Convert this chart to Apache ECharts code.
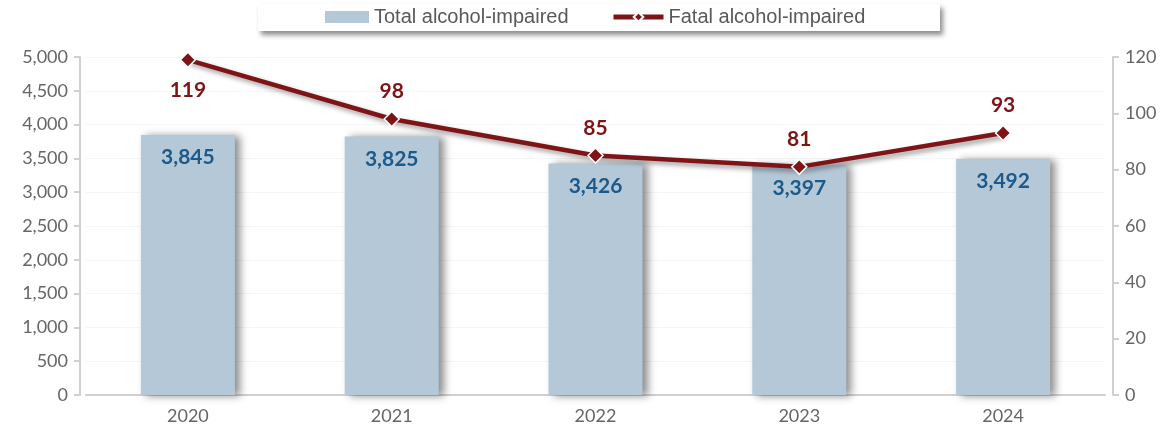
<!DOCTYPE html>
<html>
<head>
<meta charset="utf-8">
<script src="https://cdn.jsdelivr.net/npm/echarts@6/dist/echarts.min.js"></script>
<style>
  html, body { margin: 0; padding: 0; background: #fff; }
  #chart { width: 1167px; height: 433px; }
</style>
</head>
<body>
<div id="chart"></div>
<script>
var years = ['2020', '2021', '2022', '2023', '2024']
var totalImpaired = [3845, 3825, 3426, 3397, 3492]
var fatalImpaired = [119, 98, 85, 81, 93]

var axisColor = '#d0d0d0'
var lineColor = '#7e1416'
var tickFont = { color: '#666666', fontSize: 18, fontFamily: 'Lato' }
var legendText = { color: '#595959', fontSize: 20, fontFamily: 'Liberation Sans' }

var chart = echarts.init(document.getElementById('chart'))

// 119 sits at the top edge, so its label goes under the point
var fatalData = fatalImpaired.map(function (v, i) {
  return i === 0 ? { value: v, label: { position: 'bottom', distance: 12 } } : v
})

var option = {
  animation: false,
  grid: {
    left: 86,
    right: 62,
    top: 57,
    bottom: 38
  },
  graphic: [
    {
      type: 'rect',
      z: 1,
      shape: { x: 258, y: 4, width: 682, height: 27 },
      style: {
        fill: '#fff',
        shadowBlur: 5,
        shadowOffsetX: 3,
        shadowOffsetY: 4,
        shadowColor: 'rgba(0,0,0,0.45)'
      }
    }
  ],
  legend: [
    {
      z: 5,
      left: 325,
      top: 7,
      padding: 0,
      itemWidth: 44,
      itemHeight: 12,
      textStyle: legendText,
      data: [{ name: 'Total alcohol-impaired', icon: 'rect' }]
    },
    {
      z: 5,
      left: 611,
      top: 7,
      padding: 0,
      itemWidth: 50,
      itemHeight: 12,
      textStyle: legendText,
      data: [{ name: 'Fatal alcohol-impaired', lineStyle: { width: 5 } }]
    }
  ],
  xAxis: {
    type: 'category',
    data: years,
    axisLine: { lineStyle: { color: axisColor, width: 2 } },
    axisTick: { show: false },
    axisLabel: Object.assign({ margin: 12 }, tickFont)
  },
  yAxis: [
    {
      type: 'value',
      min: 0,
      max: 5000,
      interval: 500,
      offset: 6,
      axisLine: { show: true, lineStyle: { color: axisColor, width: 2 } },
      axisTick: { show: true, length: 6, lineStyle: { color: axisColor, width: 2 } },
      axisLabel: Object.assign({ margin: 12, formatter: function (v) { return v.toLocaleString('en-US') } }, tickFont),
      splitLine: { lineStyle: { color: '#f5f5f5' } }
    },
    {
      type: 'value',
      min: 0,
      max: 120,
      interval: 20,
      offset: 8,
      position: 'right',
      axisLine: { show: true, lineStyle: { color: axisColor, width: 2 } },
      axisTick: { show: true, length: 6, lineStyle: { color: axisColor, width: 2 } },
      axisLabel: Object.assign({ margin: 12 }, tickFont),
      splitLine: { show: false }
    }
  ],
  series: [
    {
      name: 'Total alcohol-impaired',
      type: 'bar',
      barWidth: 94,
      data: totalImpaired,
      itemStyle: {
        color: '#b4c8d8',
        shadowBlur: 8,
        shadowOffsetX: 5,
        shadowOffsetY: 1,
        shadowColor: 'rgba(0,0,0,0.45)'
      },
      label: {
        show: true,
        position: 'insideTop',
        distance: 12,
        color: '#1b5a8a',
        fontSize: 21,
        fontWeight: 'bold',
        fontFamily: 'Lato',
        formatter: function (p) { return p.value.toLocaleString('en-US') }
      }
    },
    {
      name: 'Fatal alcohol-impaired',
      type: 'line',
      yAxisIndex: 1,
      data: fatalData,
      symbol: 'diamond',
      symbolSize: 15,
      lineStyle: {
        color: lineColor,
        width: 4.5,
        shadowBlur: 5,
        shadowOffsetX: 3,
        shadowOffsetY: 3,
        shadowColor: 'rgba(0,0,0,0.4)'
      },
      itemStyle: {
        color: lineColor,
        borderColor: '#fff',
        borderWidth: 1.5
      },
      label: {
        show: true,
        position: 'top',
        distance: 9,
        color: lineColor,
        fontSize: 21,
        fontWeight: 'bold',
        fontFamily: 'Lato'
      }
    }
  ]
}

chart.setOption(option)
</script>
</body>
</html>
